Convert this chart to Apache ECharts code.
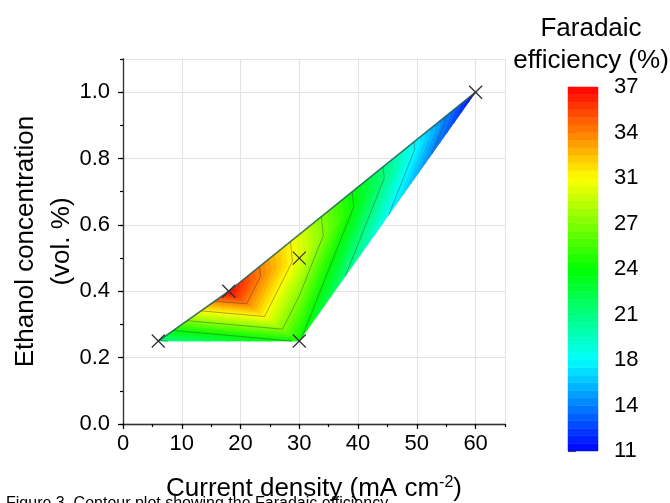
<!DOCTYPE html>
<html><head><meta charset="utf-8">
<script src="https://cdn.jsdelivr.net/npm/echarts@6/dist/echarts.min.js"></script>
<style>html,body{margin:0;padding:0;background:#fff}#c{width:670px;height:503px}</style>
</head><body><div id="c"></div>
<script>
// ---- data ----
const currentDensity = [6, 18, 30, 30, 60];          // mA cm-2
const ethanolConc    = [0.25, 0.40, 0.50, 0.25, 1.00]; // vol. %
const faradaicEff    = [20.5, 37, 29.8, 24.2, 11];     // %
const triangles      = [[0,1,3],[1,2,3],[1,4,2],[2,4,3]];
const topEdge        = [0,1,4];
const feMin = 11, feMax = 37;
const feTickStep = 3.25;
const contourLevels = [14.25, 17.5, 20.75, 24, 27.25, 30.5, 33.75];
const bandCount = 48;
const colorStops = [[11,[0,0,255]],[17.5,[0,255,255]],[24,[0,255,0]],[30.5,[255,255,0]],[37,[255,0,0]]];
const FONT = "'Liberation Sans', Arial, sans-serif";

function feColor(v){
  v = Math.max(feMin, Math.min(feMax, v));
  for (let i=0;i<colorStops.length-1;i++){
    const a=colorStops[i], b=colorStops[i+1];
    if (v<=b[0]){
      const t=(v-a[0])/(b[0]-a[0]);
      const c=a[1].map((x,k)=>Math.round(x+(b[1][k]-x)*t));
      return 'rgb('+c.join(',')+')';
    }
  }
  return 'rgb(255,0,0)';
}
function clip(poly, a, above){
  const out=[]; const n=poly.length;
  for(let i=0;i<n;i++){
    const P=poly[i], Q=poly[(i+1)%n];
    const pin = above ? P[2]>=a : P[2]<=a;
    const qin = above ? Q[2]>=a : Q[2]<=a;
    if(pin) out.push(P);
    if(pin!==qin){
      const t=(a-P[2])/(Q[2]-P[2]);
      out.push([P[0]+(Q[0]-P[0])*t, P[1]+(Q[1]-P[1])*t, a]);
    }
  }
  return out;
}
const bandStep = (feMax-feMin)/bandCount;
function triPts(idx){ return triangles[idx].map(i=>[currentDensity[i], ethanolConc[i], faradaicEff[i]]); }

const chart = echarts.init(document.getElementById('c'), null, {renderer:'canvas'});
const axisLabelStyle = {color:'#000', fontSize:22, fontFamily:FONT};

const option = {
  animation:false,
  grid:[
    {left:123, right:165, top:59, bottom:79, containLabel:false, outerBoundsMode:'none'},
    {left:568, top:87, width:30, height:364, containLabel:false, outerBoundsMode:'none'}
  ],
  xAxis:[
    {gridIndex:0, type:'value', min:0, max:65, interval:10,
     axisLine:{lineStyle:{color:'#000', width:1.3}},
     axisTick:{length:5, lineStyle:{color:'#000', width:1.2}},
     axisLabel:Object.assign({margin:9, showMaxLabel:false}, axisLabelStyle),
     splitLine:{show:true, lineStyle:{color:'#e2e2e2', width:1}},
     name:'Current density (mA cm{sup|-2})', nameLocation:'middle', nameGap:51, nameMoveOverlap:false,
     nameTextStyle:{color:'#000', fontSize:26, fontFamily:FONT,
       rich:{sup:{fontSize:16, fontFamily:FONT, color:'#000', padding:[0,0,12,0]}}}},
    {gridIndex:0, type:'value', min:0, max:65, interval:5, position:'bottom',
     axisLine:{show:false}, axisTick:{length:3, lineStyle:{color:'#000', width:1.2}},
     axisLabel:{show:false}, splitLine:{show:false}},
    {gridIndex:0, type:'value', min:0, max:65, position:'top',
     axisLine:{lineStyle:{color:'#333', width:1}}, axisTick:{show:false}, axisLabel:{show:false}, splitLine:{show:false}},
    {gridIndex:1, type:'value', min:0, max:1, show:false}
  ],
  yAxis:[
    {gridIndex:0, type:'value', min:0, max:1.1, interval:0.2,
     axisLine:{lineStyle:{color:'#000', width:1.3}},
     axisTick:{length:5, lineStyle:{color:'#000', width:1.2}},
     axisLabel:Object.assign({margin:13, showMaxLabel:false, formatter:v=>v.toFixed(1)}, axisLabelStyle),
     splitLine:{show:true, lineStyle:{color:'#e2e2e2', width:1}},
     name:'Ethanol concentration\n(vol. %)', nameLocation:'middle', nameGap:43, nameMoveOverlap:false,
     nameTextStyle:{color:'#000', fontSize:26, fontFamily:FONT, lineHeight:36}},
    {gridIndex:0, type:'value', min:0, max:1.1, interval:0.1, position:'left',
     axisLine:{show:false}, axisTick:{length:3, lineStyle:{color:'#000', width:1.2}},
     axisLabel:{show:false}, splitLine:{show:false}},
    {gridIndex:0, type:'value', min:0, max:1.1, position:'right',
     axisLine:{lineStyle:{color:'#333', width:1}}, axisTick:{show:false}, axisLabel:{show:false}, splitLine:{show:false}},
    {gridIndex:1, type:'value', min:0, max:feMax-feMin, interval:feTickStep, position:'right',
     axisLine:{show:false},
     axisTick:{length:8, lineStyle:{color:'#555', width:1.2}},
     axisLabel:{color:'#000', fontSize:22, fontFamily:FONT, margin:16, formatter:v=>String(Math.round(v+feMin))},
     splitLine:{show:false}}
  ],
  graphic:[
    {type:'text', x:591, y:13,
     style:{text:'Faradaic\nefficiency (%)', font:'26px '+FONT, fill:'#000', textAlign:'center', lineHeight:32}},
    {type:'text', x:6, y:496,
     style:{text:'Figure 3. Contour plot showing the Faradaic efficiency', font:'16px '+FONT, fill:'#000'}}
  ],
  series:[
    { // filled contour bands
      type:'custom', xAxisIndex:0, yAxisIndex:0, silent:true, z:2,
      data: triangles.map((t,i)=>[i]),
      renderItem:function(params, api){
        const pts = triPts(api.value(0));
        const children=[];
        for(let b=0;b<bandCount;b++){
          const lo=feMin+b*bandStep, hi=lo+bandStep;
          const poly = clip(clip(pts, lo, true), hi, false);
          if(poly.length<3) continue;
          const c = feColor(lo+bandStep/2);
          children.push({type:'polygon', shape:{points:poly.map(p=>api.coord([p[0],p[1]]))},
            style:{fill:c, stroke:c, lineWidth:0.7}});
        }
        return {type:'group', children};
      }
    },
    { // contour lines
      type:'custom', xAxisIndex:0, yAxisIndex:0, silent:true, z:3,
      data: triangles.map((t,i)=>[i]),
      renderItem:function(params, api){
        const pts = triPts(api.value(0));
        const children=[];
        contourLevels.forEach(L=>{
          const cross=[];
          for(let i=0;i<3;i++){
            const P=pts[i], Q=pts[(i+1)%3];
            if((P[2]-L)*(Q[2]-L)<0){
              const t=(L-P[2])/(Q[2]-P[2]);
              cross.push(api.coord([P[0]+(Q[0]-P[0])*t, P[1]+(Q[1]-P[1])*t]));
            }
          }
          if(cross.length===2){
            children.push({type:'line', shape:{x1:cross[0][0],y1:cross[0][1],x2:cross[1][0],y2:cross[1][1]},
              style:{stroke:'rgba(60,60,60,0.55)', lineWidth:0.8}});
          }
        });
        return {type:'group', children};
      }
    },
    { // upper boundary
      type:'line', xAxisIndex:0, yAxisIndex:0, silent:true, z:4, symbol:'none',
      data: topEdge.map(i=>[currentDensity[i], ethanolConc[i]]),
      lineStyle:{color:'rgba(40,100,90,0.85)', width:1.6}
    },
    { // markers
      type:'custom', xAxisIndex:0, yAxisIndex:0, silent:true, z:5,
      data: currentDensity.map((x,i)=>[x, ethanolConc[i]]),
      renderItem:function(params, api){
        const c = api.coord([api.value(0), api.value(1)]);
        const s = 6.5;
        const st = {stroke:'#333', lineWidth:1.3};
        return {type:'group', children:[
          {type:'line', shape:{x1:c[0]-s,y1:c[1]-s,x2:c[0]+s,y2:c[1]+s}, style:st},
          {type:'line', shape:{x1:c[0]-s,y1:c[1]+s,x2:c[0]+s,y2:c[1]-s}, style:st}
        ]};
      }
    },
    { // colour bar
      type:'custom', xAxisIndex:3, yAxisIndex:3, silent:true,
      data: Array.from({length:bandCount}, (_, i)=>[i]),
      renderItem:function(params, api){
        const i = api.value(0);
        const p1 = api.coord([0, i*bandStep]);
        const p2 = api.coord([1, (i+1)*bandStep]);
        const c = feColor(feMin+(i+0.5)*bandStep);
        return {type:'rect', shape:{x:p1[0], y:p2[1], width:p2[0]-p1[0], height:p1[1]-p2[1]},
          style:{fill:c, stroke:c, lineWidth:0.5}};
      }
    }
  ]
};
chart.setOption(option);
</script></body></html>
